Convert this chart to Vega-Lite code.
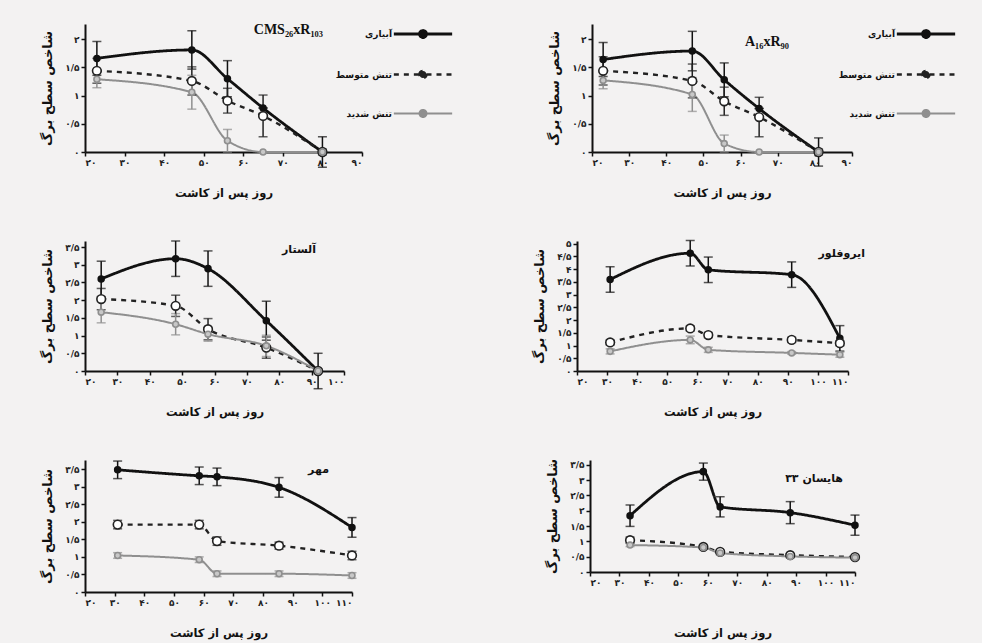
{
  "$schema": "https://vega.github.io/schema/vega-lite/v6.json",
  "background": "#f3f2f2",
  "padding": {"left": 41, "top": 3, "right": 22, "bottom": 4},
  "datasets": {
    "d": [
      {"p":1,"t":"آبیاری","day":23,"lai":1.66,"err":0.30},
      {"p":1,"t":"آبیاری","day":47,"lai":1.81,"err":0.34},
      {"p":1,"t":"آبیاری","day":56,"lai":1.30,"err":0.32},
      {"p":1,"t":"آبیاری","day":65,"lai":0.78,"err":0.0},
      {"p":1,"t":"آبیاری","day":80,"lai":0.0,"err":0.27},
      {"p":1,"t":"تنش متوسط","day":23,"lai":1.44,"err":0.22},
      {"p":1,"t":"تنش متوسط","day":47,"lai":1.26,"err":0.25},
      {"p":1,"t":"تنش متوسط","day":56,"lai":0.91,"err":0.22},
      {"p":1,"t":"تنش متوسط","day":65,"lai":0.64,"err":0.37},
      {"p":1,"t":"تنش متوسط","day":80,"lai":0.0,"err":0.05},
      {"p":1,"t":"تنش شدید","day":23,"lai":1.29,"err":0.15},
      {"p":1,"t":"تنش شدید","day":47,"lai":1.06,"err":0.30},
      {"p":1,"t":"تنش شدید","day":56,"lai":0.20,"err":0.20},
      {"p":1,"t":"تنش شدید","day":65,"lai":0.0,"err":0.0},
      {"p":1,"t":"تنش شدید","day":80,"lai":0.0,"err":0.0},
      {"p":2,"t":"آبیاری","day":23,"lai":1.64,"err":0.30},
      {"p":2,"t":"آبیاری","day":47,"lai":1.79,"err":0.35},
      {"p":2,"t":"آبیاری","day":55.6,"lai":1.28,"err":0.30},
      {"p":2,"t":"آبیاری","day":65,"lai":0.77,"err":0.0},
      {"p":2,"t":"آبیاری","day":81,"lai":0.0,"err":0.25},
      {"p":2,"t":"تنش متوسط","day":23,"lai":1.44,"err":0.25},
      {"p":2,"t":"تنش متوسط","day":47,"lai":1.26,"err":0.30},
      {"p":2,"t":"تنش متوسط","day":55.6,"lai":0.90,"err":0.25},
      {"p":2,"t":"تنش متوسط","day":65,"lai":0.62,"err":0.35},
      {"p":2,"t":"تنش متوسط","day":81,"lai":0.0,"err":0.05},
      {"p":2,"t":"تنش شدید","day":23,"lai":1.27,"err":0.15},
      {"p":2,"t":"تنش شدید","day":47,"lai":1.02,"err":0.30},
      {"p":2,"t":"تنش شدید","day":55.6,"lai":0.15,"err":0.15},
      {"p":2,"t":"تنش شدید","day":65,"lai":0.0,"err":0.0},
      {"p":2,"t":"تنش شدید","day":81,"lai":0.0,"err":0.0},
      {"p":3,"t":"آبیاری","day":25,"lai":2.60,"err":0.50},
      {"p":3,"t":"آبیاری","day":48,"lai":3.17,"err":0.50},
      {"p":3,"t":"آبیاری","day":58,"lai":2.89,"err":0.50},
      {"p":3,"t":"آبیاری","day":76,"lai":1.42,"err":0.55},
      {"p":3,"t":"آبیاری","day":92,"lai":0.0,"err":0.50},
      {"p":3,"t":"تنش متوسط","day":25,"lai":2.03,"err":0.30},
      {"p":3,"t":"تنش متوسط","day":48,"lai":1.84,"err":0.30},
      {"p":3,"t":"تنش متوسط","day":58,"lai":1.18,"err":0.30},
      {"p":3,"t":"تنش متوسط","day":76,"lai":0.66,"err":0.30},
      {"p":3,"t":"تنش متوسط","day":92,"lai":0.0,"err":0.05},
      {"p":3,"t":"تنش شدید","day":25,"lai":1.66,"err":0.30},
      {"p":3,"t":"تنش شدید","day":48,"lai":1.32,"err":0.30},
      {"p":3,"t":"تنش شدید","day":58,"lai":1.04,"err":0.20},
      {"p":3,"t":"تنش شدید","day":76,"lai":0.71,"err":0.30},
      {"p":3,"t":"تنش شدید","day":92,"lai":0.0,"err":0.05},
      {"p":4,"t":"آبیاری","day":31,"lai":3.59,"err":0.50},
      {"p":4,"t":"آبیاری","day":57.6,"lai":4.62,"err":0.50},
      {"p":4,"t":"آبیاری","day":63.6,"lai":3.97,"err":0.50},
      {"p":4,"t":"آبیاری","day":91.3,"lai":3.78,"err":0.50},
      {"p":4,"t":"آبیاری","day":107.3,"lai":1.28,"err":0.50},
      {"p":4,"t":"تنش متوسط","day":31,"lai":1.12,"err":0.10},
      {"p":4,"t":"تنش متوسط","day":57.6,"lai":1.67,"err":0.10},
      {"p":4,"t":"تنش متوسط","day":63.6,"lai":1.41,"err":0.10},
      {"p":4,"t":"تنش متوسط","day":91.3,"lai":1.22,"err":0.10},
      {"p":4,"t":"تنش متوسط","day":107.3,"lai":1.09,"err":0.10},
      {"p":4,"t":"تنش شدید","day":31,"lai":0.77,"err":0.10},
      {"p":4,"t":"تنش شدید","day":57.6,"lai":1.22,"err":0.15},
      {"p":4,"t":"تنش شدید","day":63.6,"lai":0.83,"err":0.10},
      {"p":4,"t":"تنش شدید","day":91.3,"lai":0.71,"err":0.05},
      {"p":4,"t":"تنش شدید","day":107.3,"lai":0.64,"err":0.10},
      {"p":5,"t":"آبیاری","day":31,"lai":3.48,"err":0.25},
      {"p":5,"t":"آبیاری","day":58.5,"lai":3.31,"err":0.25},
      {"p":5,"t":"آبیاری","day":64.5,"lai":3.28,"err":0.25},
      {"p":5,"t":"آبیاری","day":85.4,"lai":2.98,"err":0.28},
      {"p":5,"t":"آبیاری","day":110,"lai":1.84,"err":0.28},
      {"p":5,"t":"تنش متوسط","day":31,"lai":1.92,"err":0.12},
      {"p":5,"t":"تنش متوسط","day":58.5,"lai":1.92,"err":0.12},
      {"p":5,"t":"تنش متوسط","day":64.5,"lai":1.45,"err":0.12},
      {"p":5,"t":"تنش متوسط","day":85.4,"lai":1.32,"err":0.10},
      {"p":5,"t":"تنش متوسط","day":110,"lai":1.04,"err":0.12},
      {"p":5,"t":"تنش شدید","day":31,"lai":1.04,"err":0.08},
      {"p":5,"t":"تنش شدید","day":58.5,"lai":0.92,"err":0.08},
      {"p":5,"t":"تنش شدید","day":64.5,"lai":0.52,"err":0.08},
      {"p":5,"t":"تنش شدید","day":85.4,"lai":0.52,"err":0.08},
      {"p":5,"t":"تنش شدید","day":110,"lai":0.47,"err":0.08},
      {"p":6,"t":"آبیاری","day":33.6,"lai":1.84,"err":0.35},
      {"p":6,"t":"آبیاری","day":58.5,"lai":3.28,"err":0.28},
      {"p":6,"t":"آبیاری","day":64.2,"lai":2.13,"err":0.33},
      {"p":6,"t":"آبیاری","day":88,"lai":1.94,"err":0.36},
      {"p":6,"t":"آبیاری","day":110,"lai":1.53,"err":0.33},
      {"p":6,"t":"تنش متوسط","day":33.6,"lai":1.04,"err":0.10},
      {"p":6,"t":"تنش متوسط","day":58.5,"lai":0.82,"err":0.05},
      {"p":6,"t":"تنش متوسط","day":64.2,"lai":0.66,"err":0.05},
      {"p":6,"t":"تنش متوسط","day":88,"lai":0.55,"err":0.05},
      {"p":6,"t":"تنش متوسط","day":110,"lai":0.49,"err":0.05},
      {"p":6,"t":"تنش شدید","day":33.6,"lai":0.88,"err":0.05},
      {"p":6,"t":"تنش شدید","day":58.5,"lai":0.80,"err":0.05},
      {"p":6,"t":"تنش شدید","day":64.2,"lai":0.62,"err":0.05},
      {"p":6,"t":"تنش شدید","day":88,"lai":0.51,"err":0.05},
      {"p":6,"t":"تنش شدید","day":110,"lai":0.47,"err":0.05}
    ]
  },
  "vconcat": [
    {
      "hconcat": [
        {
          "width": 277, "height": 128,
          "data": {"name": "d"},
          "transform": [{"filter": "datum.p == 1"}],
          "title": {"text": "CMS₂₆xR₁₀₃", "frame": "group", "anchor": "end", "dx": -39, "offset": -34, "font": "Liberation Serif", "fontSize": 14, "fontWeight": "bold"},
          "encoding": {
            "x": {"field": "day", "type": "quantitative", "scale": {"domain": [20, 90], "nice": false, "zero": false}, "axis": {"values": [20,30,40,50,60,70,80,90], "title": "روز پس از کاشت"}},
            "y": {"field": "lai", "type": "quantitative", "scale": {"domain": [0, 2.27], "nice": false}, "axis": {"values": [0,0.5,1,1.5,2], "title": "شاخص سطح برگ"}},
            "color": {"field": "t", "type": "nominal", "scale": {"domain": ["آبیاری","تنش متوسط","تنش شدید"], "range": ["#111111","#222222","#8f8f8f"]},
              "legend": {"title": null, "orient": "none", "legendX": 307, "legendY": -21, "padding": 0, "symbolType": "M-1,0H-0.12M0.12,0H1M-0.12,0A0.12,0.12,0,1,1,0.12,0A0.12,0.12,0,1,1,-0.12,0", "symbolSize": 3400, "symbolOpacity": 1, "labelAlign": "right", "labelOffset": -62, "rowPadding": -15, "labelFontSize": 9, "labelFontWeight": "bold", "labelColor": "#111",
                "encode": {"symbols": {"update": {"fill": {"signal": "datum.value == 'تنش متوسط' ? '#ffffff' : datum.value == 'تنش شدید' ? '#c8c8c8' : '#111111'"}, "opacity": {"value": 1}}}}}}
          },
          "layer": [
            {"mark": {"type": "line", "interpolate": "monotone"},
             "encoding": {
               "strokeDash": {"field": "t", "type": "nominal", "scale": {"domain": ["آبیاری","تنش متوسط","تنش شدید"], "range": [[1,0],[5,5],[1,0]]}},
               "strokeWidth": {"field": "t", "type": "nominal", "scale": {"domain": ["آبیاری","تنش متوسط","تنش شدید"], "range": [2.8,2,2]}}
             }},
            {"mark": {"type": "errorbar", "ticks": true, "size": 9, "thickness": 1.5}, "encoding": {"yError": {"field": "err"}}},
            {"mark": {"type": "point", "filled": false, "opacity": 1, "strokeWidth": 1.6},
             "encoding": {
               "fill": {"field": "t", "type": "nominal", "scale": {"domain": ["آبیاری","تنش متوسط","تنش شدید"], "range": ["#111111","#ffffff","#c8c8c8"]}, "legend": null},
               "size": {"condition": {"test": "datum.t == 'تنش متوسط'", "value": 75}, "value": 35}
             }}
          ]
        },
        {
          "width": 260, "height": 128,
          "data": {"name": "d"},
          "transform": [{"filter": "datum.p == 2"}],
          "title": {"text": "A₁₆xR₉₀", "frame": "group", "anchor": "end", "dx": -63, "offset": -46, "font": "Liberation Serif", "fontSize": 14, "fontWeight": "bold"},
          "encoding": {
            "x": {"field": "day", "type": "quantitative", "scale": {"domain": [20, 90], "nice": false, "zero": false}, "axis": {"values": [20,30,40,50,60,70,80,90], "title": "روز پس از کاشت"}},
            "y": {"field": "lai", "type": "quantitative", "scale": {"domain": [0, 2.27], "nice": false}, "axis": {"values": [0,0.5,1,1.5,2], "title": "شاخص سطح برگ"}},
            "color": {"field": "t", "type": "nominal", "scale": {"domain": ["آبیاری","تنش متوسط","تنش شدید"], "range": ["#111111","#222222","#8f8f8f"]},
              "legend": {"title": null, "orient": "none", "legendX": 303, "legendY": -21, "padding": 0, "symbolType": "M-1,0H-0.12M0.12,0H1M-0.12,0A0.12,0.12,0,1,1,0.12,0A0.12,0.12,0,1,1,-0.12,0", "symbolSize": 3400, "symbolOpacity": 1, "labelAlign": "right", "labelOffset": -62, "rowPadding": -18, "labelFontSize": 9, "labelFontWeight": "bold", "labelColor": "#111",
                "encode": {"symbols": {"update": {"fill": {"signal": "datum.value == 'تنش متوسط' ? '#ffffff' : datum.value == 'تنش شدید' ? '#c8c8c8' : '#111111'"}, "opacity": {"value": 1}}}}}}
          },
          "layer": [
            {"mark": {"type": "line", "interpolate": "monotone"},
             "encoding": {
               "strokeDash": {"field": "t", "type": "nominal", "scale": {"domain": ["آبیاری","تنش متوسط","تنش شدید"], "range": [[1,0],[5,5],[1,0]]}},
               "strokeWidth": {"field": "t", "type": "nominal", "scale": {"domain": ["آبیاری","تنش متوسط","تنش شدید"], "range": [2.8,2,2]}}
             }},
            {"mark": {"type": "errorbar", "ticks": true, "size": 9, "thickness": 1.5}, "encoding": {"yError": {"field": "err"}}},
            {"mark": {"type": "point", "filled": false, "opacity": 1, "strokeWidth": 1.6},
             "encoding": {
               "fill": {"field": "t", "type": "nominal", "scale": {"domain": ["آبیاری","تنش متوسط","تنش شدید"], "range": ["#111111","#ffffff","#c8c8c8"]}, "legend": null},
               "size": {"condition": {"test": "datum.t == 'تنش متوسط'", "value": 75}, "value": 35}
             }}
          ]
        }
      ],
      "spacing": 230,
      "bounds": "flush",
      "resolve": {"scale": {"color": "independent", "strokeDash": "independent", "strokeWidth": "independent", "fill": "independent", "x": "independent", "y": "independent"}, "legend": {"color": "independent", "strokeDash": "independent", "strokeWidth": "independent"}}
    },
    {
      "hconcat": [
        {
          "width": 259, "height": 130,
          "data": {"name": "d"},
          "transform": [{"filter": "datum.p == 3"}],
          "title": {"text": "آلستار", "frame": "group", "anchor": "end", "dx": -28, "offset": -15, "fontSize": 11, "fontWeight": "bold"},
          "encoding": {
            "x": {"field": "day", "type": "quantitative", "scale": {"domain": [20, 100], "nice": false, "zero": false}, "axis": {"values": [20,30,40,50,60,70,80,90,100], "title": "روز پس از کاشت"}},
            "y": {"field": "lai", "type": "quantitative", "scale": {"domain": [0, 3.67], "nice": false}, "axis": {"values": [0,0.5,1,1.5,2,2.5,3,3.5], "title": "شاخص سطح برگ"}},
            "color": {"field": "t", "type": "nominal", "scale": {"domain": ["آبیاری","تنش متوسط","تنش شدید"], "range": ["#111111","#222222","#8f8f8f"]}, "legend": null}
          },
          "layer": [
            {"mark": {"type": "line", "interpolate": "monotone"},
             "encoding": {
               "strokeDash": {"field": "t", "type": "nominal", "scale": {"domain": ["آبیاری","تنش متوسط","تنش شدید"], "range": [[1,0],[5,5],[1,0]]}, "legend": null},
               "strokeWidth": {"field": "t", "type": "nominal", "scale": {"domain": ["آبیاری","تنش متوسط","تنش شدید"], "range": [2.8,2,2]}, "legend": null}
             }},
            {"mark": {"type": "errorbar", "ticks": true, "size": 9, "thickness": 1.5}, "encoding": {"yError": {"field": "err"}}},
            {"mark": {"type": "point", "filled": false, "opacity": 1, "strokeWidth": 1.6},
             "encoding": {
               "fill": {"field": "t", "type": "nominal", "scale": {"domain": ["آبیاری","تنش متوسط","تنش شدید"], "range": ["#111111","#ffffff","#c8c8c8"]}, "legend": null},
               "size": {"condition": {"test": "datum.t == 'تنش متوسط'", "value": 75}, "value": 35}
             }}
          ]
        },
        {
          "width": 271, "height": 130,
          "data": {"name": "d"},
          "transform": [{"filter": "datum.p == 4"}],
          "title": {"text": "ایروفلور", "frame": "group", "anchor": "end", "dx": 17, "offset": -19, "fontSize": 11, "fontWeight": "bold"},
          "encoding": {
            "x": {"field": "day", "type": "quantitative", "scale": {"domain": [20, 110], "nice": false, "zero": false}, "axis": {"values": [20,30,40,50,60,70,80,90,100,110], "title": "روز پس از کاشت"}},
            "y": {"field": "lai", "type": "quantitative", "scale": {"domain": [0, 5.1], "nice": false}, "axis": {"values": [0,0.5,1,1.5,2,2.5,3,3.5,4,4.5,5], "title": "شاخص سطح برگ"}},
            "color": {"field": "t", "type": "nominal", "scale": {"domain": ["آبیاری","تنش متوسط","تنش شدید"], "range": ["#111111","#222222","#8f8f8f"]}, "legend": null}
          },
          "layer": [
            {"mark": {"type": "line", "interpolate": "monotone"},
             "encoding": {
               "strokeDash": {"field": "t", "type": "nominal", "scale": {"domain": ["آبیاری","تنش متوسط","تنش شدید"], "range": [[1,0],[5,5],[1,0]]}, "legend": null},
               "strokeWidth": {"field": "t", "type": "nominal", "scale": {"domain": ["آبیاری","تنش متوسط","تنش شدید"], "range": [2.8,2,2]}, "legend": null}
             }},
            {"mark": {"type": "errorbar", "ticks": true, "size": 9, "thickness": 1.5}, "encoding": {"yError": {"field": "err"}}},
            {"mark": {"type": "point", "filled": false, "opacity": 1, "strokeWidth": 1.6},
             "encoding": {
               "fill": {"field": "t", "type": "nominal", "scale": {"domain": ["آبیاری","تنش متوسط","تنش شدید"], "range": ["#111111","#ffffff","#c8c8c8"]}, "legend": null},
               "size": {"condition": {"test": "datum.t == 'تنش متوسط'", "value": 75}, "value": 35}
             }}
          ]
        }
      ],
      "spacing": 233,
      "bounds": "flush",
      "resolve": {"scale": {"color": "independent", "strokeDash": "independent", "strokeWidth": "independent", "fill": "independent", "x": "independent", "y": "independent"}}
    },
    {
      "hconcat": [
        {
          "width": 267, "height": 132,
          "data": {"name": "d"},
          "transform": [{"filter": "datum.p == 5"}],
          "title": {"text": "مهر", "frame": "group", "anchor": "end", "dx": -23, "offset": -15, "fontSize": 11, "fontWeight": "bold"},
          "encoding": {
            "x": {"field": "day", "type": "quantitative", "scale": {"domain": [20, 110], "nice": false, "zero": false}, "axis": {"values": [20,30,40,50,60,70,80,90,100,110], "title": "روز پس از کاشت"}},
            "y": {"field": "lai", "type": "quantitative", "scale": {"domain": [0, 3.76], "nice": false}, "axis": {"values": [0,0.5,1,1.5,2,2.5,3,3.5], "title": "شاخص سطح برگ"}},
            "color": {"field": "t", "type": "nominal", "scale": {"domain": ["آبیاری","تنش متوسط","تنش شدید"], "range": ["#111111","#222222","#8f8f8f"]}, "legend": null}
          },
          "layer": [
            {"mark": {"type": "line", "interpolate": "monotone"},
             "encoding": {
               "strokeDash": {"field": "t", "type": "nominal", "scale": {"domain": ["آبیاری","تنش متوسط","تنش شدید"], "range": [[1,0],[5,5],[1,0]]}, "legend": null},
               "strokeWidth": {"field": "t", "type": "nominal", "scale": {"domain": ["آبیاری","تنش متوسط","تنش شدید"], "range": [2.8,2,2]}, "legend": null}
             }},
            {"mark": {"type": "errorbar", "ticks": true, "size": 9, "thickness": 1.5}, "encoding": {"yError": {"field": "err"}}},
            {"mark": {"type": "point", "filled": false, "opacity": 1, "strokeWidth": 1.6},
             "encoding": {
               "fill": {"field": "t", "type": "nominal", "scale": {"domain": ["آبیاری","تنش متوسط","تنش شدید"], "range": ["#111111","#ffffff","#c8c8c8"]}, "legend": null},
               "size": {"condition": {"test": "datum.t == 'تنش متوسط'", "value": 75}, "value": 35}
             }}
          ]
        },
        {
          "width": 265, "height": 112,
          "data": {"name": "d"},
          "transform": [{"filter": "datum.p == 6"}],
          "title": {"text": "هایسان ۳۳", "frame": "group", "anchor": "end", "dx": -12, "offset": -25, "fontSize": 11, "fontWeight": "bold"},
          "encoding": {
            "x": {"field": "day", "type": "quantitative", "scale": {"domain": [20, 110], "nice": false, "zero": false}, "axis": {"values": [20,30,40,50,60,70,80,90,100,110], "title": "روز پس از کاشت", "titlePadding": 40}},
            "y": {"field": "lai", "type": "quantitative", "scale": {"domain": [0, 3.66], "nice": false}, "axis": {"values": [0,0.5,1,1.5,2,2.5,3,3.5], "title": "شاخص سطح برگ"}},
            "color": {"field": "t", "type": "nominal", "scale": {"domain": ["آبیاری","تنش متوسط","تنش شدید"], "range": ["#111111","#222222","#8f8f8f"]}, "legend": null}
          },
          "layer": [
            {"mark": {"type": "line", "interpolate": "monotone"},
             "encoding": {
               "strokeDash": {"field": "t", "type": "nominal", "scale": {"domain": ["آبیاری","تنش متوسط","تنش شدید"], "range": [[1,0],[5,5],[1,0]]}, "legend": null},
               "strokeWidth": {"field": "t", "type": "nominal", "scale": {"domain": ["آبیاری","تنش متوسط","تنش شدید"], "range": [2.8,2,2]}, "legend": null}
             }},
            {"mark": {"type": "errorbar", "ticks": true, "size": 9, "thickness": 1.5}, "encoding": {"yError": {"field": "err"}}},
            {"mark": {"type": "point", "filled": false, "opacity": 1, "strokeWidth": 1.6},
             "encoding": {
               "fill": {"field": "t", "type": "nominal", "scale": {"domain": ["آبیاری","تنش متوسط","تنش شدید"], "range": ["#111111","#ffffff","#c8c8c8"]}, "legend": null},
               "size": {"condition": {"test": "datum.t == 'تنش متوسط'", "value": 75}, "value": 35}
             }}
          ]
        }
      ],
      "spacing": 238,
      "bounds": "flush",
      "resolve": {"scale": {"color": "independent", "strokeDash": "independent", "strokeWidth": "independent", "fill": "independent", "x": "independent", "y": "independent"}}
    }
  ],
  "spacing": 40,
  "resolve": {"scale": {"color": "independent", "strokeDash": "independent", "strokeWidth": "independent", "fill": "independent", "x": "independent", "y": "independent"}, "legend": {"color": "independent", "strokeDash": "independent", "strokeWidth": "independent"}},
  "config": {
    "font": "DejaVu Sans",
    "view": {"stroke": null},
    "axis": {
      "grid": false,
      "domainColor": "#111111", "domainWidth": 2,
      "tickColor": "#111111", "tickWidth": 1.5, "tickSize": 4,
      "labelFontSize": 9, "labelFontWeight": "bold", "labelColor": "#222222", "labelPadding": 2,
      "titleFontSize": 11.5, "titleFontWeight": "bold", "titleColor": "#111111",
      "labelExpr": "replace(replace(replace(replace(replace(replace(replace(replace(replace(replace(replace(''+datum.value,regexp('0','g'),'۰'),regexp('1','g'),'۱'),regexp('2','g'),'۲'),regexp('3','g'),'۳'),regexp('4','g'),'۴'),regexp('5','g'),'۵'),regexp('6','g'),'۶'),regexp('7','g'),'۷'),regexp('8','g'),'۸'),regexp('9','g'),'۹'),regexp('[.]','g'),'/')"
    },
    "axisY": {"titlePadding": 10, "titleFontSize": 13},
    "axisX": {"titlePadding": 20},
    "title": {"color": "#111111"}
  }
}
